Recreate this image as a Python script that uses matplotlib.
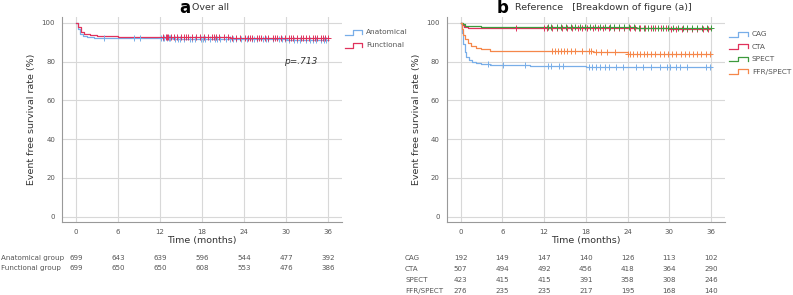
import numpy as np
import matplotlib
matplotlib.use("Agg")
import matplotlib.pyplot as plt
from matplotlib.lines import Line2D

# ---- data ----
months = [0, 6, 12, 18, 24, 30, 36]
yticks = [0, 20, 40, 60, 80, 100]

# panel a: overall
anat_t = [0, 0.3, 0.6, 1.0, 1.5, 2.5, 5, 14, 20, 25, 30]
anat_s = [100, 97, 94.5, 93, 92.5, 92.2, 92.0, 91.8, 91.6, 91.5, 91.4]
func_t = [0, 0.3, 0.7, 1.2, 2.0, 3.0, 6, 15, 22, 28]
func_s = [100, 98, 95.5, 94.5, 93.8, 93.2, 92.8, 92.6, 92.4, 92.2]
anat_cens = [4.0, 8.3, 9.2, 12.1, 12.4, 12.6, 13.0, 13.3, 13.5, 14.2, 14.6, 14.9, 15.5,
             16.3, 16.6, 17.0, 17.8, 18.2, 18.5, 19.1, 19.8, 20.1, 20.6, 21.4, 22.0,
             22.5, 22.9, 23.6, 24.4, 25.1, 25.5, 25.9, 26.7, 27.1, 27.5, 28.2, 29.0,
             29.4, 29.8, 30.5, 31.2, 31.6, 32.0, 32.8, 33.5, 33.9, 34.3, 35.0, 35.4, 35.7]
func_cens = [12.4, 12.8, 13.0, 13.2, 13.6, 14.0, 14.5, 15.0, 15.4, 15.7, 16.0, 16.6,
             17.2, 17.7, 18.3, 18.8, 19.4, 19.7, 20.0, 20.5, 21.1, 21.7, 22.3, 22.9,
             23.5, 24.1, 24.6, 24.9, 25.2, 25.8, 26.1, 26.4, 27.0, 27.5, 28.1, 28.4,
             28.7, 29.3, 29.9, 30.4, 30.7, 31.0, 31.6, 32.2, 32.5, 32.8, 33.3, 33.9,
             34.2, 34.5, 35.0, 35.3, 35.6, 36.0]

# panel b: breakdown
cag_t = [0, 0.2, 0.4, 0.6, 0.8, 1.2, 1.6, 2.2, 3.0, 4.2, 10, 18, 24]
cag_s = [100, 95, 89, 85, 82.5, 80.8, 80.0, 79.2, 78.8, 78.2, 77.9, 77.5, 77.2]
cta_t = [0, 0.2, 0.5, 1, 12, 24, 30]
cta_s = [100, 99, 97.8, 97.5, 97.4, 97.2, 97.0]
spect_t = [0, 0.3, 0.7, 1.2, 3, 15, 25, 32]
spect_s = [100, 99.3, 98.6, 98.2, 98.0, 97.8, 97.5, 97.2]
ffr_t = [0, 0.2, 0.4, 0.6, 1.0, 1.5, 2.2, 3.0, 4.2, 14, 19, 24]
ffr_s = [100, 97, 94, 91.5, 89.5, 88.0, 87.0, 86.3, 85.5, 85.3, 84.8, 84.2]
cag_cens = [4.0, 6.1, 9.3, 12.5, 13.0, 14.2, 14.7, 18.4, 18.9, 19.4, 20.1, 20.8, 21.3,
            22.3, 23.3, 25.2, 26.2, 27.4, 28.6, 29.6, 30.1, 31.0, 31.5, 32.5, 35.3, 35.9]
cta_cens = [8.0, 12.0, 12.4, 13.1, 13.9, 14.6, 15.3, 16.0, 16.8, 17.5, 18.2, 19.0, 19.8,
            20.5, 21.3, 22.0, 22.8, 23.5, 24.3, 25.0, 25.8, 26.5, 27.3, 28.0, 28.8,
            29.5, 30.3, 31.0, 31.8, 32.5, 33.3, 34.0, 34.8, 35.5]
spect_cens = [12.5, 13.0, 13.8, 14.4, 15.1, 15.8, 16.4, 17.2, 17.9, 18.6, 19.3, 20.0,
              20.7, 21.4, 22.1, 22.8, 23.5, 24.2, 24.9, 25.6, 26.3, 27.0, 27.7, 28.4,
              29.1, 29.8, 30.5, 31.2, 31.9, 32.6, 33.3, 34.0, 34.7, 35.4, 36.0]
ffr_cens = [13.2, 13.6, 14.0, 14.4, 14.8, 15.3, 15.8, 16.5, 17.5, 18.4, 18.8, 19.5,
            20.2, 21.0, 22.2, 24.0, 24.3, 24.8, 25.3, 25.8, 26.3, 26.8, 27.3, 28.0,
            28.6, 29.2, 29.8, 30.4, 31.0, 31.6, 32.2, 32.8, 33.4, 34.0, 34.6, 35.2, 35.8]

risk_a_labels = ["Anatomical group", "Functional group"]
risk_a = [[699, 643, 639, 596, 544, 477, 392],
          [699, 650, 650, 608, 553, 476, 386]]
risk_b_labels = ["CAG", "CTA", "SPECT", "FFR/SPECT"]
risk_b = [[192, 149, 147, 140, 126, 113, 102],
          [507, 494, 492, 456, 418, 364, 290],
          [423, 415, 415, 391, 358, 308, 246],
          [276, 235, 235, 217, 195, 168, 140]]

c_blue = "#78aee8"
c_red = "#e0325c"
c_green = "#3d9a3d"
c_orange = "#f5874a"
txt_gray = "#555555"

fig = plt.figure(figsize=(7.93, 2.95), dpi=100)
ax1 = fig.add_axes([0.0782, 0.2475, 0.353, 0.6945])
ax2 = fig.add_axes([0.5633, 0.2475, 0.351, 0.6945])


def km(ax, t, s, cens, color):
    t = list(t) + [36]
    s = list(s) + [s[-1]]
    ax.step(t, s, where="post", color=color, lw=0.9, zorder=3)
    idx = np.searchsorted(t, cens, side="right") - 1
    ax.plot(cens, np.array(s)[idx], ls="none", marker="+", ms=4, mew=0.7,
            color=color, zorder=4)


def style(ax):
    ax.set_xlim(-2, 38)
    ax.set_ylim(-2.7, 103)
    ax.set_xticks(months)
    ax.set_yticks(yticks)
    ax.grid(True, color="#d8d8d8", lw=0.8)
    ax.set_axisbelow(True)
    for sp in ["top", "right"]:
        ax.spines[sp].set_visible(False)
    for sp in ["left", "bottom"]:
        ax.spines[sp].set_color("#999999")
        ax.spines[sp].set_linewidth(0.8)
    ax.tick_params(length=0, labelsize=5, labelcolor=txt_gray, pad=5)
    ax.set_xlabel("Time (months)", fontsize=6.8, color="#333333", labelpad=1)
    ax.set_ylabel("Event free survival rate (%)", fontsize=6.8, color="#333333", labelpad=4)


km(ax1, anat_t, anat_s, anat_cens, c_blue)
km(ax1, func_t, func_s, func_cens, c_red)
style(ax1)
ax1.text(34.5, 80, "p=.713", style="italic", fontsize=6.5, color="#333333",
         ha="right", va="center")

km(ax2, cag_t, cag_s, cag_cens, c_blue)
km(ax2, cta_t, cta_s, cta_cens, c_red)
km(ax2, spect_t, spect_s, spect_cens, c_green)
km(ax2, ffr_t, ffr_s, ffr_cens, c_orange)
style(ax2)

# titles
fig.text(179 / 793, 1 - 8 / 295, "a", fontsize=12, fontweight="bold", va="center")
fig.text(192 / 793, 1 - 8 / 295, "Over all", fontsize=6.8, color="#333333", va="center")
fig.text(497 / 793, 1 - 8 / 295, "b", fontsize=12, fontweight="bold", va="center")
fig.text(515 / 793, 1 - 8 / 295, "Reference   [Breakdown of figure (a)]", fontsize=6.8,
         color="#333333", va="center")


# legends with step-shaped keys, drawn in figure pixels
def legend(x0, rows, labels, colors, w):
    for y, lab, col in zip(rows, labels, colors):
        xs = np.array([x0, x0 + w * 0.45, x0 + w * 0.45, x0 + w, x0 + w])
        ys = np.array([y + 2.5, y + 2.5, y - 2.5, y - 2.5, y + 1.5])
        fig.add_artist(Line2D(xs / 793, 1 - ys / 295, color=col, lw=0.9))
        fig.text((x0 + w + 4) / 793, 1 - y / 295, lab, fontsize=5.3,
                 color=txt_gray, va="center")


legend(345, [32, 45], ["Anatomical", "Functional"], [c_blue, c_red], 17)
legend(729, [34, 46.5, 59, 71.5], ["CAG", "CTA", "SPECT", "FFR/SPECT"],
       [c_blue, c_red, c_green, c_orange], 19)

# numbers at risk
for ax, labels, table, rows, lx in [
        (ax1, risk_a_labels, risk_a, [258.3, 268.3], 1),
        (ax2, risk_b_labels, risk_b, [257.7, 269, 280, 291], 405)]:
    for lab, vals, y in zip(labels, table, rows):
        fig.text(lx / 793, 1 - y / 295, lab, fontsize=5.1, color=txt_gray, va="center")
        for m, v in zip(months, vals):
            px = ax.transData.transform((m, 0))[0]
            fig.text(px / 793, 1 - y / 295, str(v), fontsize=5.1, color=txt_gray,
                     ha="center", va="center")

fig.savefig("out.png", dpi=100)
